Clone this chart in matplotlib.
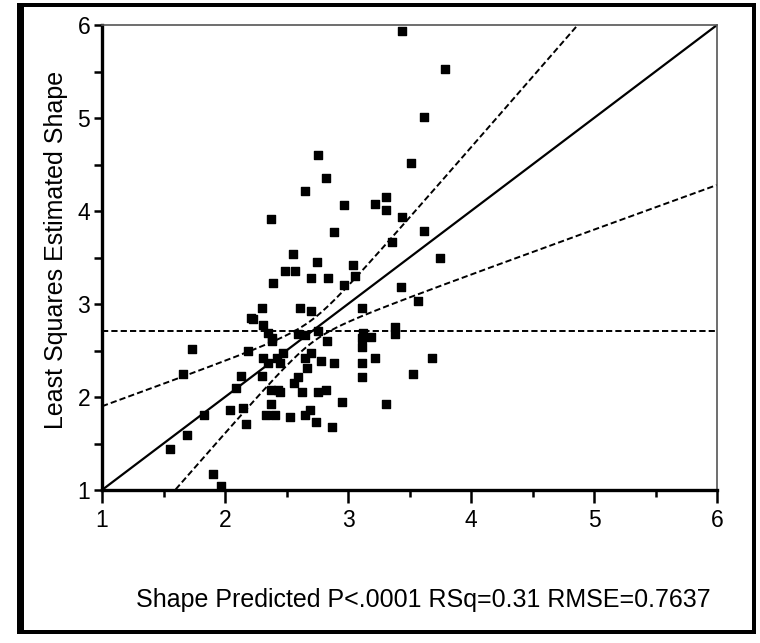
import numpy as np
import matplotlib
matplotlib.use("Agg")
import matplotlib.pyplot as plt
from matplotlib.patches import Rectangle
from matplotlib.ticker import MultipleLocator

plt.rcParams['font.family'] = ['Liberation Sans', 'DejaVu Sans']

# predicted shape (x) vs least squares estimated shape (y)
shape_pred = [3.44, 3.79, 3.62, 3.51, 2.76, 2.82, 2.65, 2.97, 3.22, 3.31,
              3.31, 3.44, 2.37, 2.89, 3.62, 3.36, 2.55, 3.75, 2.75, 3.04,
              2.49, 2.57, 2.70, 2.84, 3.06, 2.97, 2.39, 3.43, 2.30, 2.61,
              3.11, 2.70, 3.57, 2.21, 2.31, 2.35, 2.38, 2.59, 2.65, 2.76,
              3.12, 3.11, 3.19, 3.38, 3.38, 2.83, 1.73, 2.19, 2.47, 2.70,
              3.11, 2.31, 2.42, 2.65, 3.22, 3.68, 2.35, 2.45, 2.67, 2.78,
              2.89, 3.11, 1.66, 2.13, 2.30, 2.59, 2.56, 3.11, 3.53, 2.09,
              2.37, 2.43, 2.45, 2.63, 2.76, 2.82, 2.95, 2.04, 2.15, 2.37,
              2.33, 2.41, 2.53, 2.65, 2.69, 3.31, 1.83, 2.17, 2.74, 2.87,
              1.69, 1.55, 1.90, 1.97, 2.23, 2.38]
shape_est = [5.94, 5.53, 5.01, 4.52, 4.60, 4.35, 4.21, 4.06, 4.08, 4.15,
             4.01, 3.94, 3.91, 3.77, 3.79, 3.67, 3.54, 3.50, 3.45, 3.42,
             3.35, 3.35, 3.28, 3.28, 3.30, 3.20, 3.23, 3.18, 2.96, 2.96,
             2.96, 2.92, 3.03, 2.85, 2.77, 2.69, 2.63, 2.68, 2.67, 2.71,
             2.69, 2.63, 2.64, 2.75, 2.68, 2.60, 2.52, 2.49, 2.47, 2.47,
             2.54, 2.42, 2.42, 2.42, 2.42, 2.42, 2.37, 2.37, 2.31, 2.39,
             2.37, 2.37, 2.25, 2.23, 2.23, 2.21, 2.15, 2.21, 2.25, 2.10,
             2.08, 2.08, 2.05, 2.05, 2.05, 2.08, 1.95, 1.86, 1.88, 1.93,
             1.81, 1.81, 1.78, 1.81, 1.86, 1.93, 1.81, 1.71, 1.73, 1.68,
             1.59, 1.44, 1.17, 1.04, 2.84, 2.60]

# fit: line y = x, horizontal mean line, confidence curve parameters
mean_y = 2.71
band_a = 0.015
band_b = 0.272
stat_text = "Shape Predicted P<.0001 RSq=0.31 RMSE=0.7637"

fig = plt.figure(figsize=(7.6, 6.43), dpi=100)
W, H = 760, 643
ax = fig.add_axes([102 / W, 1 - 490 / H, (717 - 102) / W, (490 - 25) / H])

xs = np.linspace(1, 6, 300)
half = np.sqrt(band_a + band_b * (xs - mean_y) ** 2)
dash = (0, (3.2, 1.6))
ax.plot(xs, xs, color='black', lw=1.6)
ax.plot(xs, xs + half, color='black', lw=1.4, ls=dash)
ax.plot(xs, xs - half, color='black', lw=1.4, ls=dash)
ax.axhline(mean_y, color='black', lw=1.4, ls=dash)
ax.scatter(shape_pred, shape_est, marker='s', s=36, color='black', zorder=3,
           clip_on=False)

ax.set_xlim(1, 6)
ax.set_ylim(1, 6)
ax.xaxis.set_major_locator(MultipleLocator(1))
ax.yaxis.set_major_locator(MultipleLocator(1))
ax.xaxis.set_minor_locator(MultipleLocator(0.5))
ax.yaxis.set_minor_locator(MultipleLocator(0.5))
ax.tick_params(which='both', width=1.8, labelsize=16.5, direction='out')
ax.tick_params(axis='x', which='major', length=9, pad=5)
ax.tick_params(axis='x', which='minor', length=5)
ax.tick_params(axis='y', which='both', length=5.5, pad=3)

for s in ['left', 'bottom']:
    ax.spines[s].set_linewidth(2.4)
for s in ['top', 'right']:
    ax.spines[s].set_linewidth(1.2)
    ax.spines[s].set_color('#555555')

ax.set_ylabel("Least Squares Estimated Shape", fontsize=18)
ax.yaxis.set_label_coords(-0.056, 0.516)
fig.text(423 / W, 1 - 600 / H, stat_text, fontsize=18, ha='center', va='center')

# outer frame (left side drawn heavier like the original)
for (x0, y0, w, h) in [(17, 3, 7, 631), (17, 3, 739, 4), (752, 3, 4, 631), (17, 630, 739, 4)]:
    fig.add_artist(Rectangle((x0 / W, 1 - (y0 + h) / H), w / W, h / H,
                             transform=fig.transFigure, color='black', lw=0))

fig.savefig("out.png", dpi=100)
